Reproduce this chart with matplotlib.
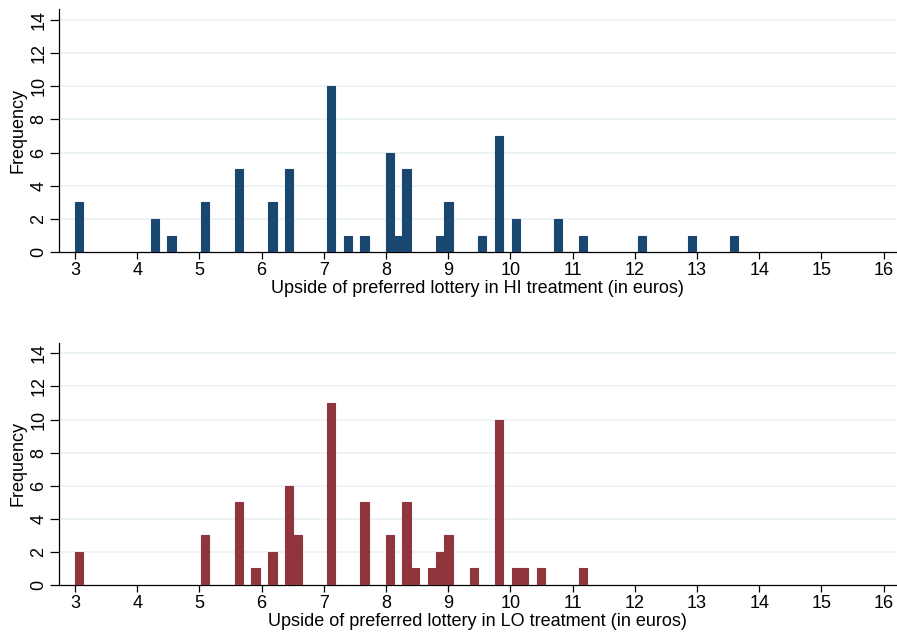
import matplotlib.pyplot as plt
import numpy as np

plt.rcParams['font.family'] = ['Liberation Sans', 'DejaVu Sans']

# histogram bins: left edge of each non-empty bin and its count
bin_width = 0.135

hi_left = [3.00, 4.215, 4.485, 5.025, 5.565, 6.105, 6.375, 7.05, 7.32, 7.59,
           7.995, 8.13, 8.265, 8.805, 8.94, 9.48, 9.75, 10.02, 10.695, 11.10,
           12.045, 12.855, 13.53]
hi_count = [3, 2, 1, 3, 5, 3, 5, 10, 1, 1,
            6, 1, 5, 1, 3, 1, 7, 2, 2, 1,
            1, 1, 1]

lo_left = [3.00, 5.025, 5.565, 5.835, 6.105, 6.375, 6.51, 7.05, 7.59, 7.995,
           8.265, 8.40, 8.67, 8.805, 8.94, 9.345, 9.75, 10.02, 10.155, 10.425,
           11.10]
lo_count = [2, 3, 5, 1, 2, 6, 3, 11, 5, 3,
            5, 1, 1, 2, 3, 1, 10, 1, 1, 1,
            1]

x_ticks = list(range(3, 17))
y_ticks = list(range(0, 15, 2))

navy = '#1a476f'
maroon = '#90353b'
grid_col = '#eaf2f3'

fig = plt.figure(figsize=(8.97, 6.35), dpi=100)
ax_hi = fig.add_axes([0.0661, 0.6027, 0.9329, 0.3827])
ax_lo = fig.add_axes([0.0661, 0.0787, 0.9329, 0.3816])


def panel(ax, left, count, color, label):
    ax.bar(left, count, width=bin_width, align='edge', color=color,
           edgecolor=color, linewidth=0.8, zorder=3)
    ax.set_xlim(2.748, 16.2)
    ax.set_ylim(0, 14.64)
    ax.set_xticks(x_ticks)
    ax.set_yticks(y_ticks)
    ax.set_yticklabels([str(t) for t in y_ticks], rotation=90, va='center')
    for y in y_ticks[1:]:
        ax.axhline(y, color=grid_col, linewidth=1.2, zorder=1)
    for side in ['top', 'right']:
        ax.spines[side].set_visible(False)
    ax.spines['left'].set_color('black')
    ax.spines['bottom'].set_color('black')
    ax.spines['left'].set_linewidth(0.9)
    ax.spines['bottom'].set_linewidth(0.9)
    ax.tick_params(axis='x', length=5, width=0.9, labelsize=13, pad=2)
    ax.tick_params(axis='y', length=6.5, width=0.9, labelsize=13, pad=2)
    ax.set_xlabel(label, fontsize=13, labelpad=1)
    ax.set_ylabel('Frequency', fontsize=13, labelpad=3)


panel(ax_hi, hi_left, hi_count, navy,
      'Upside of preferred lottery in HI treatment (in euros)')
panel(ax_lo, lo_left, lo_count, maroon,
      'Upside of preferred lottery in LO treatment (in euros)')

fig.savefig('out.png', dpi=100)
